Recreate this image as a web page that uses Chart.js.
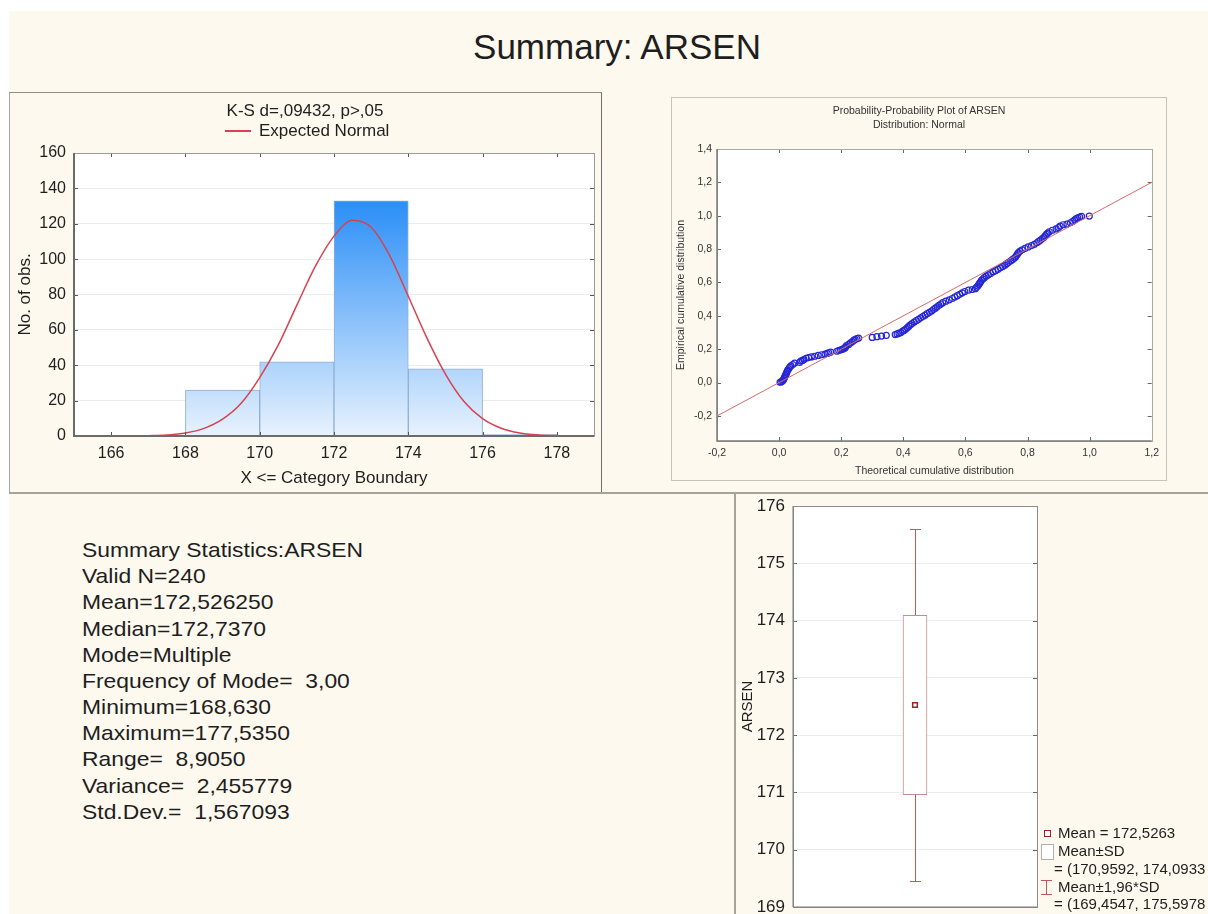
<!DOCTYPE html>
<html>
<head>
<meta charset="utf-8">
<title>Summary: ARSEN</title>
<script src="https://cdn.jsdelivr.net/npm/chart.js@4.4.1/dist/chart.umd.min.js"></script>
<style>
  html, body { margin: 0; padding: 0; background: #fff; }
  body { width: 1208px; height: 914px; position: relative; overflow: hidden; font-family: 'Liberation Sans', Arial, sans-serif; color: #1e1e1e; }
  .page { position: absolute; left: 9px; top: 11px; width: 1199px; height: 903px; background: #fdf9ee; }
  .abs { position: absolute; white-space: nowrap; }
  .center { text-align: center; }
  canvas { position: absolute; }
</style>
</head>
<body>
<div class="page"></div>

<!-- page title -->
<div class="abs center" style="left:317px; width:600px; top:27px; line-height:40px; font-size:35px;">Summary: ARSEN</div>

<!-- panel frames -->
<div class="abs" style="left:9px; top:92px; width:591px; height:400px; border-top:1px solid #8c8c88; border-left:1px solid #a8a8a0; border-right:1px solid #6f6f6b;"></div>
<div class="abs" style="left:671px; top:97px; width:494px; height:382px; border:1px solid #c4c4bc;"></div>
<div class="abs" style="left:9px; top:492px; width:1199px; height:0; border-top:2px solid #a4a49c;"></div>
<div class="abs" style="left:734px; top:492px; width:0; height:422px; border-left:2px solid #a4a49c;"></div>

<!-- histogram -->
<canvas id="histChart" width="592" height="399" style="left:10px; top:93px;"></canvas>
<div class="abs center" style="left:105px; width:400px; top:101px; line-height:20px; font-size:17px;">K-S d=,09432, p&gt;,05</div>
<div class="abs" style="left:225px; top:130px; width:26px; height:2px; background:#d8414f;"></div>
<div class="abs" style="left:259px; top:121px; line-height:20px; font-size:17px;">Expected Normal</div>

<!-- P-P plot -->
<canvas id="ppChart" width="493" height="381" style="left:672px; top:98px;"></canvas>
<div class="abs center" style="left:769px; width:300px; top:103px; line-height:14px; font-size:10.5px; color:#333;">Probability-Probability Plot of ARSEN</div>
<div class="abs center" style="left:769px; width:300px; top:117px; line-height:14px; font-size:10.5px; color:#333;">Distribution: Normal</div>

<!-- summary statistics -->
<div id="stats" class="abs" style="left:82px; top:537px; font-size:21px; line-height:26.17px; transform:scaleX(1.09); transform-origin:left top;"></div>

<!-- box plot -->
<canvas id="boxChart" width="471" height="420" style="left:737px; top:494px;"></canvas>
<div id="boxLegend"></div>

<script>
// ---- data ----
const histBinCenters = [169, 171, 173, 175, 177];
const histCounts = [26, 42, 133, 38, 1];
const histTicks = [166, 168, 170, 172, 174, 176, 178];
const histYTicks = [0, 20, 40, 60, 80, 100, 120, 140, 160];

// expected normal curve
const normalX = [166.8, 167, 167.5, 168, 168.5, 169, 169.5, 170, 170.5, 171, 171.5, 172, 172.5,
                 173, 173.5, 174, 174.5, 175, 175.5, 176, 176.5, 177, 177.5, 178, 178.3];
const normalY = [0.1, 0.2, 0.6, 1.7, 4.3, 9.5, 18.5, 33, 51.5, 74, 96, 113, 122,
                 118, 102, 79, 55.5, 35, 19.5, 9.8, 4.4, 1.7, 0.6, 0.2, 0.1];

// P-P plot points (theoretical, empirical)
const ppTheoretical = [0.003, 0.006, 0.010, 0.012, 0.014, 0.016, 0.018, 0.020, 0.022, 0.024, 0.026, 0.028,
  0.031, 0.034, 0.038, 0.044, 0.050, 0.066, 0.070, 0.075, 0.080, 0.087, 0.095, 0.104, 0.115, 0.126,
  0.137, 0.148, 0.155, 0.160, 0.166, 0.186, 0.192, 0.198, 0.204, 0.208, 0.212, 0.214, 0.217, 0.224,
  0.230, 0.236, 0.241, 0.245, 0.250, 0.256, 0.300, 0.315, 0.330, 0.345, 0.374, 0.380, 0.386, 0.392,
  0.398, 0.403, 0.408, 0.413, 0.418, 0.423, 0.428, 0.435, 0.442, 0.449, 0.456, 0.463, 0.470, 0.477,
  0.484, 0.491, 0.497, 0.503, 0.509, 0.515, 0.521, 0.527, 0.537, 0.548, 0.558, 0.566, 0.574, 0.582,
  0.590, 0.598, 0.610, 0.622, 0.632, 0.636, 0.640, 0.643, 0.646, 0.649, 0.652, 0.656, 0.661, 0.667,
  0.674, 0.681, 0.689, 0.697, 0.705, 0.713, 0.720, 0.727, 0.733, 0.739, 0.746, 0.752, 0.758, 0.762,
  0.765, 0.768, 0.771, 0.776, 0.783, 0.792, 0.802, 0.813, 0.822, 0.830, 0.836, 0.842, 0.848, 0.853,
  0.857, 0.861, 0.865, 0.870, 0.880, 0.892, 0.900, 0.905, 0.915, 0.927, 0.938, 0.946, 0.952, 0.957,
  0.962, 0.968, 0.974, 0.999];
const ppEmpirical = [0.002, 0.004, 0.008, 0.013, 0.017, 0.025, 0.033, 0.042, 0.050, 0.058, 0.067, 0.075,
  0.083, 0.092, 0.100, 0.108, 0.117, 0.121, 0.129, 0.133, 0.138, 0.146, 0.150, 0.154, 0.158, 0.163,
  0.167, 0.171, 0.175, 0.179, 0.183, 0.188, 0.192, 0.196, 0.200, 0.204, 0.208, 0.213, 0.221, 0.229,
  0.238, 0.246, 0.254, 0.258, 0.263, 0.267, 0.271, 0.275, 0.279, 0.283, 0.288, 0.292, 0.296, 0.300,
  0.308, 0.313, 0.321, 0.329, 0.338, 0.346, 0.354, 0.363, 0.371, 0.379, 0.388, 0.396, 0.404, 0.413,
  0.421, 0.429, 0.438, 0.446, 0.454, 0.463, 0.471, 0.479, 0.488, 0.496, 0.504, 0.513, 0.521, 0.529,
  0.538, 0.546, 0.554, 0.558, 0.563, 0.571, 0.579, 0.588, 0.596, 0.604, 0.613, 0.621, 0.629, 0.638,
  0.646, 0.654, 0.663, 0.671, 0.679, 0.688, 0.696, 0.704, 0.713, 0.721, 0.729, 0.738, 0.746, 0.754,
  0.763, 0.771, 0.779, 0.788, 0.796, 0.804, 0.813, 0.821, 0.829, 0.838, 0.846, 0.854, 0.863, 0.871,
  0.879, 0.888, 0.896, 0.904, 0.913, 0.921, 0.929, 0.938, 0.946, 0.950, 0.958, 0.967, 0.975, 0.983,
  0.988, 0.992, 0.996, 0.998];
const ppRefX = [-0.2, 1.2];
const ppRefY = [-0.2, 1.2];
const ppTicks = [-0.2, 0, 0.2, 0.4, 0.6, 0.8, 1.0, 1.2];
const ppYTicks = [-0.2, 0, 0.2, 0.4, 0.6, 0.8, 1.0, 1.2, 1.4];

// box plot
const boxCategories = ['ARSEN'];
const boxMean = [172.5263];
const boxSdRange = [[170.9592, 174.0933]];
const boxCiRange = [[169.4547, 175.5978]];
const boxYTicks = [169, 170, 171, 172, 173, 174, 175, 176];

const statLines = [
  'Summary Statistics:ARSEN',
  'Valid N=240',
  'Mean=172,526250',
  'Median=172,7370',
  'Mode=Multiple',
  'Frequency of Mode=  3,00',
  'Minimum=168,630',
  'Maximum=177,5350',
  'Range=  8,9050',
  'Variance=  2,455779',
  'Std.Dev.=  1,567093'
];

const FONT = "'Liberation Sans', Arial, sans-serif";
const comma = (v, d) => v.toFixed(d).replace('.', ',');

// white plot area + frame with small inner tick marks
const framePlugin = {
  id: 'frame',
  beforeDraw(chart) {
    const { ctx, chartArea: a } = chart;
    ctx.save();
    ctx.fillStyle = '#ffffff';
    ctx.fillRect(a.left, a.top, a.width, a.height);
    ctx.restore();
  },
  afterDraw(chart) {
    const { ctx, chartArea: a, scales } = chart;
    const o = chart.options.plugins.frame;
    ctx.save();
    ctx.lineWidth = 1;
    ctx.strokeStyle = o.tickColor;
    ctx.beginPath();
    if (o.xTicks) {
      scales.x.ticks.forEach(t => {
        const x = Math.round(scales.x.getPixelForValue(t.value)) + 0.5;
        ctx.moveTo(x, a.top); ctx.lineTo(x, a.top + 4);
        ctx.moveTo(x, a.bottom); ctx.lineTo(x, a.bottom - 4);
      });
    }
    scales.y.ticks.forEach(t => {
      const y = Math.round(scales.y.getPixelForValue(t.value)) + 0.5;
      ctx.moveTo(a.left, y); ctx.lineTo(a.left + 4, y);
      ctx.moveTo(a.right, y); ctx.lineTo(a.right - 4, y);
    });
    ctx.stroke();
    ctx.strokeStyle = o.light;
    ctx.strokeRect(Math.round(a.left) + 0.5, Math.round(a.top) + 0.5, Math.round(a.width), Math.round(a.height));
    ctx.strokeStyle = o.dark;
    ctx.lineWidth = o.darkWidth;
    ctx.beginPath();
    ctx.moveTo(a.left, a.top);
    ctx.lineTo(a.left, a.bottom);
    ctx.lineTo(a.right, a.bottom);
    ctx.stroke();
    ctx.restore();
  }
};

// ---- histogram ----
const histGradient = (context) => {
  const { chart } = context;
  const { ctx, chartArea, scales } = chart;
  if (!chartArea) return '#9cc8f5';
  const g = ctx.createLinearGradient(0, scales.y.getPixelForValue(0), 0, scales.y.getPixelForValue(133));
  g.addColorStop(0, '#e8f2fd');
  g.addColorStop(1, '#2a8ef7');
  return g;
};

new Chart(document.getElementById('histChart'), {
  data: {
    datasets: [
      {
        type: 'line',
        label: 'Expected Normal',
        data: normalX.map((x, i) => ({ x, y: normalY[i] })),
        borderColor: '#d8414f',
        borderWidth: 1.5,
        pointRadius: 0,
        cubicInterpolationMode: 'monotone',
        order: 1
      },
      {
        type: 'bar',
        label: 'No. of obs.',
        data: histBinCenters.map((x, i) => ({ x, y: histCounts[i] })),
        backgroundColor: histGradient,
        borderColor: '#8fb0d4',
        borderWidth: 1,
        borderSkipped: 'bottom',
        barPercentage: 1,
        categoryPercentage: 1,
        order: 2
      }
    ]
  },
  options: {
    responsive: false,
    animation: false,
    layout: { padding: { top: 60, right: 8, left: 0, bottom: 0 } },
    plugins: {
      legend: { display: false },
      tooltip: { enabled: false },
      frame: { tickColor: '#555', light: '#9a9a9a', dark: '#6b6b6b', darkWidth: 2, xTicks: true }
    },
    scales: {
      x: {
        type: 'linear',
        offset: false,
        min: 165,
        max: 179,
        afterBuildTicks: (s) => { s.ticks = histTicks.map(v => ({ value: v })); },
        afterFit: (s) => { s.height = 56; },
        grid: { display: false, drawTicks: false },
        border: { display: false },
        ticks: { color: '#1e1e1e', font: { family: FONT, size: 16 }, padding: 8, maxRotation: 0 },
        title: { display: true, text: 'X <= Category Boundary', color: '#1e1e1e', font: { family: FONT, size: 17 }, padding: { top: 0, bottom: 3 } }
      },
      y: {
        min: 0,
        max: 160,
        afterBuildTicks: (s) => { s.ticks = histYTicks.map(v => ({ value: v })); },
        afterFit: (s) => { s.width = 64; },
        grid: { color: '#ececec', drawTicks: false },
        border: { display: false },
        ticks: { color: '#1e1e1e', font: { family: FONT, size: 16 }, padding: 8 },
        title: { display: true, text: 'No. of obs.', color: '#1e1e1e', font: { family: FONT, size: 17 }, padding: { top: 5, bottom: 0 } }
      }
    }
  },
  plugins: [framePlugin]
});

// ---- P-P plot ----
new Chart(document.getElementById('ppChart'), {
  data: {
    datasets: [
      {
        type: 'scatter',
        label: 'ARSEN',
        data: ppTheoretical.map((x, i) => ({ x, y: ppEmpirical[i] })),
        pointStyle: 'circle',
        pointRadius: 3,
        borderWidth: 1.2,
        borderColor: '#2626d4',
        backgroundColor: 'rgba(0,0,0,0)',
        order: 2
      },
      {
        type: 'line',
        label: 'reference',
        data: ppRefX.map((x, i) => ({ x, y: ppRefY[i] })),
        borderColor: '#d66a6a',
        borderWidth: 1,
        pointRadius: 0,
        order: 1
      }
    ]
  },
  options: {
    responsive: false,
    animation: false,
    layout: { padding: { top: 51, right: 11, left: 0, bottom: 0 } },
    plugins: {
      legend: { display: false },
      tooltip: { enabled: false },
      frame: { tickColor: '#666', light: '#a8a8a8', dark: '#7a7a7a', darkWidth: 1.5, xTicks: true }
    },
    scales: {
      x: {
        type: 'linear',
        min: -0.2,
        max: 1.2,
        afterBuildTicks: (s) => { s.ticks = ppTicks.map(v => ({ value: v })); },
        afterFit: (s) => { s.height = 38; },
        grid: { display: false, drawTicks: false },
        border: { display: false },
        ticks: { color: '#333', font: { family: FONT, size: 10.5 }, padding: 6, maxRotation: 0, callback: (v) => comma(v, 1) },
        title: { display: true, text: 'Theoretical cumulative distribution', color: '#333', font: { family: FONT, size: 10.5 }, padding: { top: 0, bottom: 2 } }
      },
      y: {
        min: -0.35,
        max: 1.4,
        afterBuildTicks: (s) => { s.ticks = ppYTicks.map(v => ({ value: v })); },
        afterFit: (s) => { s.width = 45; },
        grid: { display: false, drawTicks: false },
        border: { display: false },
        ticks: { color: '#333', font: { family: FONT, size: 10.5 }, padding: 5, callback: (v) => comma(v, 1) },
        title: { display: true, text: 'Empirical cumulative distribution', color: '#333', font: { family: FONT, size: 10.5 }, padding: { top: 3, bottom: 0 } }
      }
    }
  },
  plugins: [framePlugin]
});

// ---- box plot ----
const whiskerPlugin = {
  id: 'whiskers',
  beforeDatasetsDraw(chart) {
    const { ctx, scales: { x, y } } = chart;
    ctx.save();
    ctx.strokeStyle = '#c05a5a';
    ctx.lineWidth = 1;
    ctx.beginPath();
    boxCiRange.forEach((r, i) => {
      const cx = Math.round(x.getPixelForValue(i)) + 0.5;
      const y0 = Math.round(y.getPixelForValue(r[0])) + 0.5;
      const y1 = Math.round(y.getPixelForValue(r[1])) + 0.5;
      ctx.moveTo(cx, y0); ctx.lineTo(cx, y1);
      ctx.moveTo(cx - 5.5, y0); ctx.lineTo(cx + 5.5, y0);
      ctx.moveTo(cx - 5.5, y1); ctx.lineTo(cx + 5.5, y1);
    });
    ctx.stroke();
    ctx.restore();
  }
};

new Chart(document.getElementById('boxChart'), {
  data: {
    labels: boxCategories,
    datasets: [
      {
        type: 'line',
        label: 'Mean',
        data: boxMean,
        showLine: false,
        pointStyle: 'rect',
        pointRadius: 3.3,
        borderWidth: 1.5,
        borderColor: '#9a2424',
        backgroundColor: '#ffffff',
        order: 1
      },
      {
        type: 'bar',
        label: 'Mean±SD',
        data: boxSdRange,
        barThickness: 24,
        backgroundColor: '#ffffff',
        borderColor: '#c48c8c',
        borderWidth: 1,
        borderSkipped: false,
        order: 2
      }
    ]
  },
  options: {
    responsive: false,
    animation: false,
    layout: { padding: { top: 12, right: 171, left: 0, bottom: 7 } },
    plugins: {
      legend: { display: false },
      tooltip: { enabled: false },
      frame: { tickColor: '#666', light: '#8c8c8c', dark: '#7a7a7a', darkWidth: 1, xTicks: false }
    },
    scales: {
      x: { type: 'category', display: false },
      y: {
        min: 169,
        max: 176,
        afterBuildTicks: (s) => { s.ticks = boxYTicks.map(v => ({ value: v })); },
        afterFit: (s) => { s.width = 56; s.paddingTop = 0; s.paddingBottom = 0; },
        grid: { color: '#ececec', drawTicks: false },
        border: { display: false },
        ticks: { color: '#1e1e1e', font: { family: FONT, size: 17 }, padding: 8 },
        title: { display: true, text: 'ARSEN', color: '#1e1e1e', font: { family: FONT, size: 15 }, padding: { top: 2, bottom: 0 } }
      }
    }
  },
  plugins: [framePlugin, whiskerPlugin]
});

// ---- text blocks ----
document.getElementById('stats').innerHTML = statLines.map(s => '<div>' + s.replace(/ /g, '&nbsp;') + '</div>').join('');

const legendRows = [
  { glyph: 'mean', text: 'Mean = ' + comma(boxMean[0], 4), x: 1058, y: 833 },
  { glyph: 'box', text: 'Mean±SD', x: 1058, y: 851 },
  { glyph: null, text: '= (' + comma(boxSdRange[0][0], 4) + ', ' + comma(boxSdRange[0][1], 4), x: 1054, y: 869 },
  { glyph: 'whisker', text: 'Mean±1,96*SD', x: 1058, y: 886.5 },
  { glyph: null, text: '= (' + comma(boxCiRange[0][0], 4) + ', ' + comma(boxCiRange[0][1], 4), x: 1054, y: 904 }
];
let html = '';
legendRows.forEach(r => {
  html += '<div class="abs" style="left:' + r.x + 'px; top:' + (r.y - 9) + 'px; line-height:18px; font-size:15px;">' + r.text + '</div>';
  if (r.glyph === 'mean') {
    html += '<div class="abs" style="left:1044px; top:' + (r.y - 3.5) + 'px; width:5px; height:5px; border:1.3px solid #9a2424; background:#fff;"></div>';
  } else if (r.glyph === 'box') {
    html += '<div class="abs" style="left:1041px; top:' + (r.y - 7) + 'px; width:11px; height:14px; border:1px solid #b0b0b0; background:#fff;"></div>';
  } else if (r.glyph === 'whisker') {
    html += '<div class="abs" style="left:1046px; top:' + (r.y - 7) + 'px; width:0; height:14px; border-left:1px solid #c05a5a;"></div>';
    html += '<div class="abs" style="left:1041px; top:' + (r.y - 7) + 'px; width:11px; height:0; border-top:1px solid #c05a5a;"></div>';
    html += '<div class="abs" style="left:1041px; top:' + (r.y + 7) + 'px; width:11px; height:0; border-top:1px solid #c05a5a;"></div>';
  }
});
document.getElementById('boxLegend').innerHTML = html;
</script>
</body>
</html>
